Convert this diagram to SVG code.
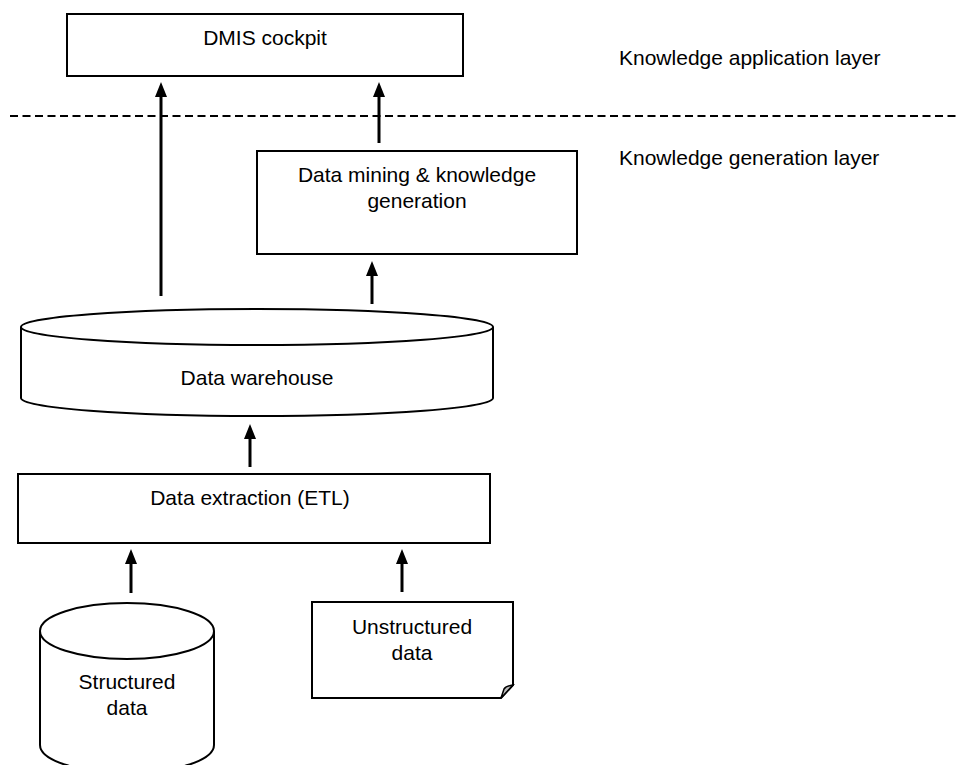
<svg xmlns="http://www.w3.org/2000/svg" width="956" height="765" viewBox="0 0 956 765">
<style>
.box{fill:#fff;stroke:#000;stroke-width:2}
.t{font-family:"Liberation Sans",Arial,sans-serif;font-size:21px;fill:#000;text-anchor:middle}
.l{font-family:"Liberation Sans",Arial,sans-serif;font-size:21px;fill:#000}
.c{stroke:#000;stroke-width:3;fill:none}
.h{fill:#000}
</style>
<rect width="956" height="765" fill="#fff"/>
<g id="divider">
<line x1="10" y1="116" x2="956" y2="116" stroke="#000" stroke-width="2" stroke-dasharray="8,4.5"/>
</g>
<g id="connectors">
<line class="c" x1="161" y1="296" x2="161" y2="94"/>
<path class="h" d="M155,97 L161,82 L167,97 Z"/>
<line class="c" x1="379" y1="143" x2="379" y2="94"/>
<path class="h" d="M373,97 L379,82 L385,97 Z"/>
<line class="c" x1="372" y1="304" x2="372" y2="273"/>
<path class="h" d="M366,276 L372,261 L378,276 Z"/>
<line class="c" x1="250" y1="467" x2="250" y2="436"/>
<path class="h" d="M244,439 L250,424 L256,439 Z"/>
<line class="c" x1="131" y1="593" x2="131" y2="561"/>
<path class="h" d="M125,564 L131,549 L137,564 Z"/>
<line class="c" x1="402" y1="592" x2="402" y2="561"/>
<path class="h" d="M396,564 L402,549 L408,564 Z"/>
</g>
<g id="dmis">
<rect class="box" x="67" y="14" width="396" height="62"/>
<text class="t" x="265" y="45">DMIS cockpit</text>
</g>
<g id="mining">
<rect class="box" x="257" y="151" width="320" height="103"/>
<text class="t" x="417" y="182">Data mining &amp; knowledge</text>
<text class="t" x="417" y="208">generation</text>
</g>
<g id="warehouse">
<path class="box" d="M21,327 L21,398 A236,18 0 0 0 493,398 L493,327 A236,18 0 0 0 21,327 Z"/>
<path class="box" style="fill:none" d="M21,327 A236,18 0 0 0 493,327"/>
<text class="t" x="257" y="385">Data warehouse</text>
</g>
<g id="etl">
<rect class="box" x="18" y="474" width="472" height="69"/>
<text class="t" x="250" y="505">Data extraction (ETL)</text>
</g>
<g id="structured">
<path class="box" d="M40,631 L40,745 A87,28 0 0 0 214,745 L214,631 A87,28 0 0 0 40,631 Z"/>
<path class="box" style="fill:none" d="M40,631 A87,28 0 0 0 214,631"/>
<text class="t" x="127" y="689">Structured</text>
<text class="t" x="127" y="715">data</text>
</g>
<g id="unstructured">
<path class="box" d="M312,602 L513,602 L513,685 L501,698 L312,698 Z"/>
<path d="M501,698 L504,689 Q506,686 513,685 Z" fill="#bbb" stroke="#000" stroke-width="1.5"/>
<text class="t" x="412" y="634">Unstructured</text>
<text class="t" x="412" y="660">data</text>
</g>
<g id="labels">
<text class="l" x="619" y="65">Knowledge application layer</text>
<text class="l" x="619" y="165">Knowledge generation layer</text>
</g>
</svg>
